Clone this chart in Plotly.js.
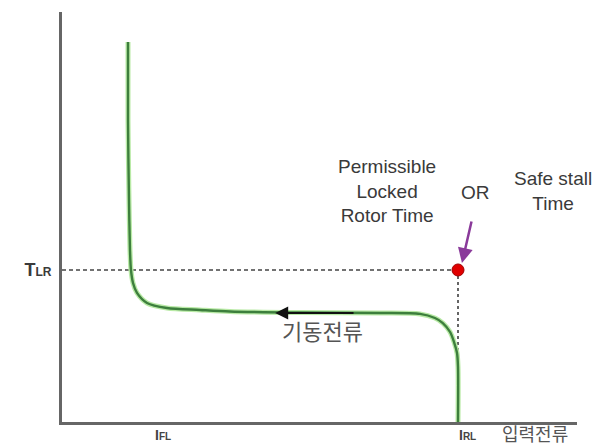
<!DOCTYPE html>
<html><head><meta charset="utf-8">
<script src="https://cdn.plot.ly/plotly-3.0.1.min.js"></script>
<style>html,body{margin:0;padding:0;background:#fff;}#chart{width:604px;height:446px;}</style>
</head><body><div id="chart"></div>
<script>
// Motor starting current vs time curve (arbitrary units)
const current = [1.0, 1.0, 1.015, 1.03, 1.045, 1.076, 1.136, 1.288, 1.59, 2.09, 2.545, 3.606, 4.818, 5.424, 5.65, 5.77, 5.88, 5.94, 5.985, 6.0, 6.0];
const time    = [25.0, 19.87, 14.61, 11.32, 10.0, 9.14, 8.49, 7.83, 7.50, 7.37, 7.27, 7.20, 7.17, 7.11, 6.84, 6.51, 5.92, 5.26, 4.54, 3.62, 0.0];
const IFL = 1.0;     // full-load current
const IRL = 6.0;     // locked-rotor current
const TLR = 10.0;    // locked-rotor time
const curveMeetTime = 4.54;
const startArrowFrom = 4.44, startArrowTo = 3.23, startArrowTime = 7.17;
const xTickLabels = ['I<span style="font-size:10px">FL</span>', 'I<span style="font-size:10px">RL</span>'];
const yTickLabel = 'T<span style="font-size:12px">LR</span>';
const xAxisTitle = '입력전류', yAxisTitle = '시간', startLabel = '기동전류';
const noteLeft = 'Permissible<br>Locked<br>Rotor Time', noteOr = 'OR', noteRight = 'Safe stall<br>Time';

const latin = '"Liberation Sans", Arial, sans-serif';
const kr = '"Noto Sans CJK KR", sans-serif';

const traces = [
  {x:[0, IRL], y:[TLR, TLR], mode:'lines', line:{color:'#444', width:1.5, dash:'4px,3px'}, hoverinfo:'skip'},
  {x:[IRL, IRL], y:[TLR, curveMeetTime], mode:'lines', line:{color:'#555', width:1.8, dash:'dot'}, hoverinfo:'skip'},
  {x:current, y:time, mode:'lines', line:{color:'#b9eaa6', width:5, shape:'spline', smoothing:0.8}, hoverinfo:'skip'},
  {x:current, y:time, mode:'lines', line:{color:'#3d7f3d', width:2.4, shape:'spline', smoothing:0.8}, hoverinfo:'skip'},
  {x:[IRL], y:[TLR], mode:'markers', marker:{size:12, color:'#e00000', line:{color:'#a00000', width:1}}, hoverinfo:'skip'}
];

const layout = {
  width:604, height:446,
  margin:{l:62, r:27, t:12, b:24},
  paper_bgcolor:'#fff', plot_bgcolor:'#fff',
  showlegend:false,
  xaxis:{range:[0, 7.803], showgrid:false, zeroline:false, showline:true, linecolor:'#666', linewidth:3,
         tickvals:[], showticklabels:false, fixedrange:true},
  yaxis:{range:[0, 26.97], showgrid:false, zeroline:false, showline:true, linecolor:'#666', linewidth:3,
         tickvals:[TLR], ticktext:[yTickLabel], ticks:'', ticklabelstandoff:4,
         tickfont:{family:latin, size:18, color:'#3a3a3a', weight:'bold'}, fixedrange:true},
  annotations:[
    {x:-0.47, y:25.99, xref:'x', yref:'y', text:yAxisTitle, showarrow:false, font:{family:kr, size:23, color:'#555'}},
    {x:IFL, y:0, xref:'x', yref:'y', xshift:35, yshift:-13, text:xTickLabels[0], showarrow:false, borderpad:0, font:{family:latin, size:14, color:'#444', weight:'bold'}},
    {x:IRL, y:0, xref:'x', yref:'y', xshift:9, yshift:-13, text:xTickLabels[1], showarrow:false, borderpad:0, font:{family:latin, size:14, color:'#444', weight:'bold'}},
    {x:7.17, y:0, xref:'x', yref:'y', yshift:-11, text:xAxisTitle, showarrow:false, borderpad:0, font:{family:kr, size:18, color:'#555'}},
    {x:3.94, y:6.05, xref:'x', yref:'y', text:startLabel, showarrow:false, font:{family:kr, size:22, color:'#555'}},
    {x:4.92, y:15.2, xref:'x', yref:'y', text:noteLeft, showarrow:false, align:'center', font:{family:latin, size:19, color:'#3a3a3a'}},
    {x:6.26, y:15.07, xref:'x', yref:'y', text:noteOr, showarrow:false, font:{family:latin, size:19, color:'#3a3a3a'}},
    {x:7.44, y:15.2, xref:'x', yref:'y', text:noteRight, showarrow:false, align:'center', font:{family:latin, size:19, color:'#3a3a3a'}},
    {x:startArrowTo, y:startArrowTime, ax:startArrowFrom, ay:startArrowTime, xref:'x', yref:'y', axref:'x', ayref:'y',
     text:'', showarrow:true, arrowhead:2, arrowsize:1.3, arrowwidth:2, arrowcolor:'#111'},
    {x:6.06, y:10.46, ax:6.21, ay:13.29, xref:'x', yref:'y', axref:'x', ayref:'y',
     text:'', showarrow:true, arrowhead:2, arrowsize:1.2, arrowwidth:2.5, arrowcolor:'#8a3a9a'}
  ]
};

Plotly.newPlot('chart', traces, layout, {staticPlot:true, displayModeBar:false});
</script></body></html>
